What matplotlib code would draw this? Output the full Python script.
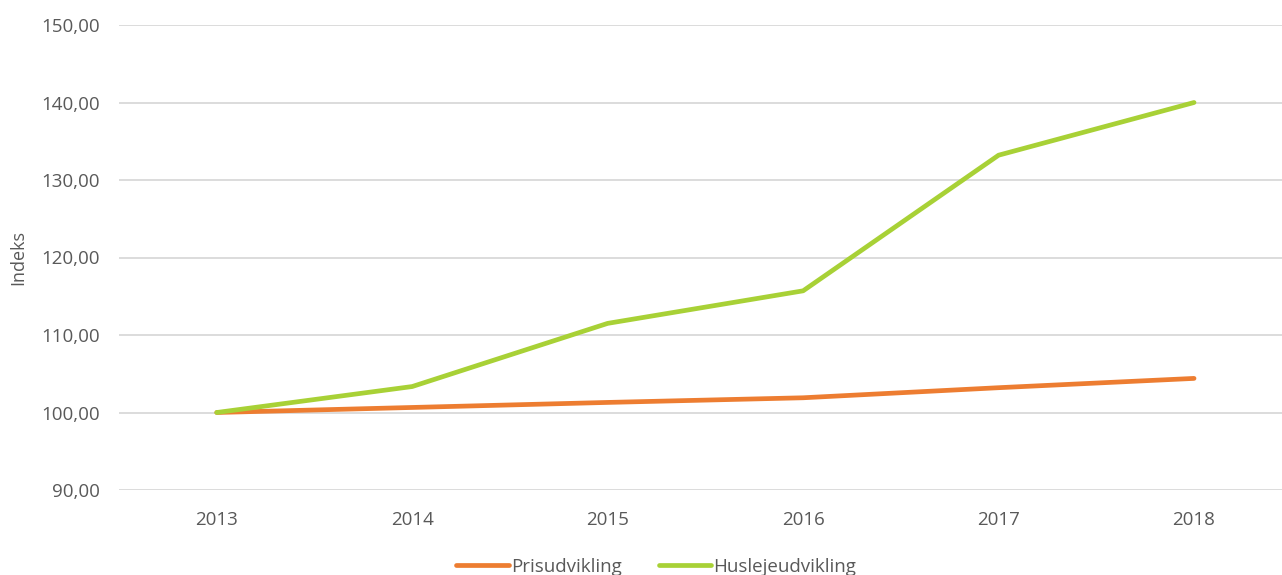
import matplotlib.pyplot as plt
from matplotlib.ticker import FuncFormatter

years = ["2013", "2014", "2015", "2016", "2017", "2018"]
prisudvikling = [100.0, 100.65, 101.3, 101.9, 103.2, 104.4]
huslejeudvikling = [100.0, 103.35, 111.5, 115.7, 133.2, 140.0]
y_ticks = [90, 100, 110, 120, 130, 140, 150]

plt.rcParams["font.family"] = ["Open Sans", "DejaVu Sans"]
text_color = "#595959"

fig = plt.figure(figsize=(12.82, 5.75), dpi=100)
ax = fig.add_axes([119 / 1282, 1 - 490 / 575, 1 - 119 / 1282, (490 - 25) / 575])

x = range(len(years))
ax.plot(x, prisudvikling, color="#ED7D31", linewidth=3.4,
        solid_capstyle="round", label="Prisudvikling", zorder=3)
ax.plot(x, huslejeudvikling, color="#A8D136", linewidth=3.4,
        solid_capstyle="round", label="Huslejeudvikling", zorder=3)

ax.set_xlim(-0.5, 5.45)
ax.set_ylim(90, 150)
ax.set_yticks(y_ticks)
ax.yaxis.set_major_formatter(FuncFormatter(lambda v, _: f"{v:.2f}".replace(".", ",")))
ax.set_xticks(list(x))
ax.set_xticklabels(years)
ax.tick_params(length=0, labelsize=13.5, labelcolor=text_color, pad=14)
ax.tick_params(axis="x", pad=15)
ax.grid(axis="y", color="#d9d9d9", linewidth=1.3)
ax.set_axisbelow(True)
for s in ax.spines.values():
    s.set_visible(False)

ax.set_ylabel("Indeks", fontsize=13, color=text_color, labelpad=10)

ax.legend(loc="center", bbox_to_anchor=(0.462, -0.165), ncol=2, frameon=False,
          fontsize=13.5, labelcolor=text_color, handlelength=2.8,
          handletextpad=0.1, columnspacing=2.0)

fig.savefig("out.png", dpi=100)
